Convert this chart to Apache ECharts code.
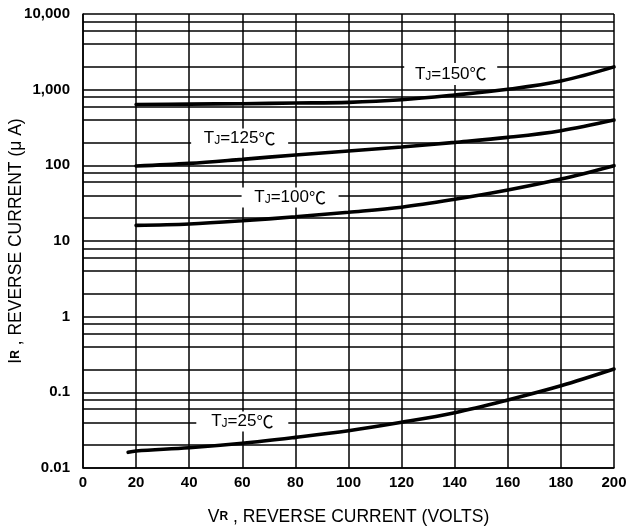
<!DOCTYPE html>
<html>
<head>
<meta charset="utf-8">
<script src="https://cdn.jsdelivr.net/npm/echarts@6/dist/echarts.min.js"></script>
<style>html,body{margin:0;padding:0;background:#fff}#c{width:637px;height:531px}</style>
</head>
<body>
<div id="c"></div>
<script>
// ---- data ----
var xTicks = [0, 20, 40, 60, 80, 100, 120, 140, 160, 180, 200];
var yTickLabels = {"0.01": "0.01", "0.1": "0.1", "1": "1", "10": "10", "100": "100", "1000": "1,000", "10000": "10,000"};
var minorGrid = [0.02,0.04,0.06,0.08, 0.2,0.4,0.6,0.8, 2,4,6,8, 20,40,60,80, 200,400,600,800, 2000,4000,6000,8000];

var tj150 = [[20,637],[40,645],[60,652],[80,665],[100,680],[120,736],[140,850],[160,1010],[180,1300],[200,2000]];
var tj125 = [[20,98],[40,106],[60,120],[80,137],[100,155],[120,175],[140,201],[160,234],[180,287],[200,397]];
var tj100 = [[20,16.1],[40,16.8],[60,18.5],[80,20.9],[100,24],[120,28],[140,35.6],[160,47.2],[180,65.9],[200,99]];
var tj25  = [[17,0.0161],[20,0.0168],[40,0.0185],[60,0.0212],[80,0.0254],[100,0.0311],[120,0.0402],[140,0.0538],[160,0.0792],[180,0.122],[200,0.203]];

var curveNames = ["150", "125", "100", "25"];
var labelAnchors = [[138.5, 2000], [59, 200], [78, 40], [60, 0.04]];
var labelOffsets = [[0, 7], [0, -4], [0, 2], [0, -1]];
var labelBoxes = [[93, 22], [97, 20], [97, 20], [92, 20]];

// ---- chart ----
var FONT = "'Liberation Sans', Arial, 'DejaVu Sans', sans-serif";
var CJK = "'Noto Sans CJK SC', 'DejaVu Sans', sans-serif";
var chart = echarts.init(document.getElementById('c'), null, {renderer: 'canvas'});

function curve(data) {
  return {
    type: 'line', data: data, smooth: 0.35, symbol: 'none', silent: true,
    lineStyle: {color: '#000', width: 3.6, cap: 'round'}, z: 20
  };
}

var labelData = labelAnchors.map(function (p, i) {
  return {
    value: p,
    symbol: 'rect',
    symbolSize: labelBoxes[i],
    symbolOffset: labelOffsets[i],
    itemStyle: {color: '#fff', opacity: 1},
    label: {
      show: true, position: 'inside',
      formatter: '{t|T}{j|J}{t|=' + curveNames[i] + '}{c|\u2103}',
      rich: {
        t: {fontSize: 17, fontFamily: FONT, color: '#000'},
        j: {fontSize: 12, fontFamily: FONT, color: '#000', verticalAlign: 'bottom'},
        c: {fontSize: 17, fontFamily: CJK, color: '#000'}
      }
    }
  };
});

var option = {
  animation: false,
  backgroundColor: '#fff',
  grid: {left: 83, right: 23, top: 14, bottom: 63, containLabel: false, outerBoundsMode: 'none'},
  xAxis: {
    type: 'value', min: 0, max: 200, interval: 20,
    name: '{v|V}{r|R}{v| , REVERSE CURRENT (VOLTS)}',
    nameLocation: 'middle', nameGap: 40, nameMoveOverlap: false,
    nameTextStyle: {
      rich: {
        v: {fontSize: 17.5, fontFamily: FONT, color: '#000'},
        r: {fontSize: 12, fontFamily: FONT, color: '#000', fontWeight: 'bold'}
      }
    },
    axisLine: {show: true, lineStyle: {color: '#000', width: 1.5}},
    axisTick: {show: false},
    axisLabel: {
      color: '#000', fontWeight: 'bold', fontSize: 15, fontFamily: FONT, margin: 7,
      formatter: function (v) { return xTicks.indexOf(v) >= 0 ? String(v) : ''; }
    },
    splitLine: {show: true, lineStyle: {color: '#000', width: 1.5}}
  },
  yAxis: {
    type: 'log', logBase: 10, min: 0.01, max: 10000,
    name: '{v|I}{r|R}{v| , REVERSE CURRENT (\u03bc A)}',
    nameLocation: 'middle', nameGap: 58, nameRotate: 90, nameMoveOverlap: false,
    nameTextStyle: {
      rich: {
        v: {fontSize: 17.5, fontFamily: FONT, color: '#000'},
        r: {fontSize: 12, fontFamily: FONT, color: '#000', fontWeight: 'bold'}
      }
    },
    axisLine: {show: true, lineStyle: {color: '#000', width: 1.5}},
    axisTick: {show: false},
    axisLabel: {
      color: '#000', fontWeight: 'bold', fontSize: 15, fontFamily: FONT, margin: 13,
      formatter: function (v) {
        var k = String(+v.toPrecision(6));
        return yTickLabels[k] !== undefined ? yTickLabels[k] : '';
      }
    },
    splitLine: {show: true, lineStyle: {color: '#000', width: 1.5}}
  },
  series: [
    {
      type: 'line', data: [], silent: true, z: 1,
      markLine: {
        silent: true, symbol: ['none', 'none'], animation: false, z: 1,
        label: {show: false},
        lineStyle: {color: '#000', width: 1.5, type: 'solid'},
        data: minorGrid.map(function (v) { return {yAxis: v}; })
      }
    },
    curve(tj150), curve(tj125), curve(tj100), curve(tj25),
    {
      type: 'scatter', silent: true, z: 10,
      data: labelData
    }
  ]
};
chart.setOption(option);
</script>
</body>
</html>
